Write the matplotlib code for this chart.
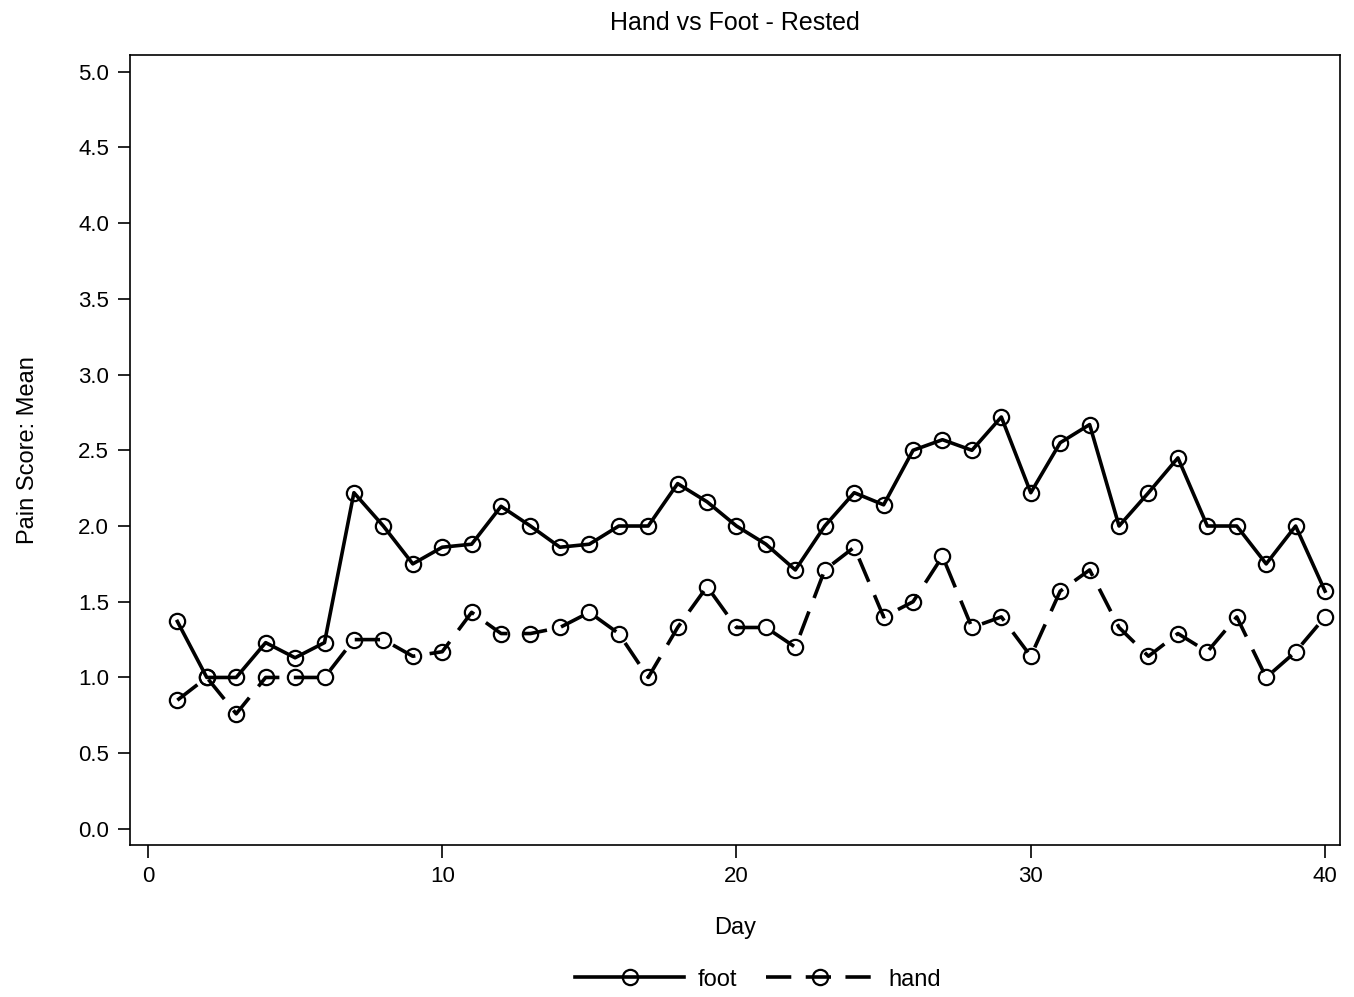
import matplotlib
matplotlib.use("Agg")
import matplotlib.pyplot as plt

days = list(range(1, 41))
foot = [1.37, 1.00, 1.00, 1.23, 1.13, 1.23, 2.22, 2.00, 1.75, 1.86,
        1.88, 2.13, 2.00, 1.86, 1.88, 2.00, 2.00, 2.28, 2.16, 2.00,
        1.88, 1.71, 2.00, 2.22, 2.14, 2.50, 2.57, 2.50, 2.72, 2.22,
        2.55, 2.67, 2.00, 2.22, 2.45, 2.00, 2.00, 1.75, 2.00, 1.57]
hand = [0.85, 1.00, 0.76, 1.00, 1.00, 1.00, 1.25, 1.25, 1.14, 1.17,
        1.43, 1.29, 1.29, 1.33, 1.43, 1.29, 1.00, 1.33, 1.60, 1.33,
        1.33, 1.20, 1.71, 1.86, 1.40, 1.50, 1.80, 1.33, 1.40, 1.14,
        1.57, 1.71, 1.33, 1.14, 1.29, 1.17, 1.40, 1.00, 1.17, 1.40]
xticks = [0, 10, 20, 30, 40]
yticks = [0.0, 0.5, 1.0, 1.5, 2.0, 2.5, 3.0, 3.5, 4.0, 4.5, 5.0]

plt.rcParams['font.family'] = ['Liberation Sans', 'DejaVu Sans']

fig = plt.figure(figsize=(13.54, 9.97), dpi=100)
ax = fig.add_axes([0.096, 0.1525, 0.8937, 0.7923])

ax.plot(days, foot, color='black', lw=2.6, marker='o', ms=11,
        mfc='none', mec='black', mew=1.6, label='foot')
ax.plot(days, hand, color='black', lw=2.6, marker='o', ms=11,
        mfc='none', mec='black', mew=1.6, linestyle=(0, (7, 4)), label='hand')

ax.set_xlim(-0.61, 40.51)
ax.set_ylim(-0.106, 5.11)
ax.set_xticks(xticks)
ax.set_xticklabels([str(t) for t in xticks])
ax.set_yticks(yticks)
ax.set_yticklabels([f"{t:.1f}" for t in yticks])
ax.tick_params(direction='out', length=9, width=1.2, labelsize=16, pad=6)
for s in ax.spines.values():
    s.set_linewidth(1.2)

ax.set_title('Hand vs Foot - Rested', fontsize=18, pad=18)
ax.set_xlabel('Day', fontsize=17, labelpad=22)
ax.set_ylabel('Pain Score: Mean', fontsize=17, labelpad=28)

fig.legend(loc='lower center', bbox_to_anchor=(0.56, -0.015), ncol=2, frameon=False,
           fontsize=17, handlelength=4.6, handletextpad=0.6, columnspacing=1.2)

fig.savefig('out.png', dpi=100)
